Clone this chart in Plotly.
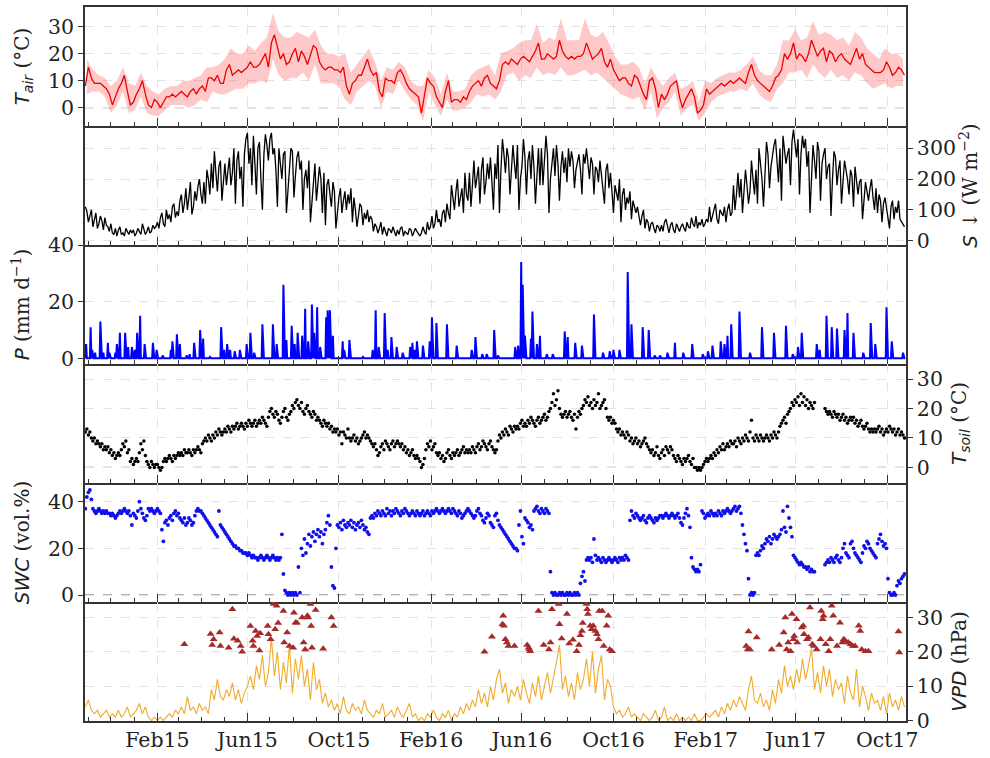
import pandas as pd
import plotly.graph_objects as go
from plotly.subplots import make_subplots

# ---------------- data ----------------
START = "2014-10-28"

# air temperature, 4-day steps (deg C)
tair = [8, 15, 11, 9, 9, 9, 8, 7,
        5, 1, 4, 7, 9, 12, 6, 1,
        2, 5, 7, 10, 5, 1, 0, 3,
        2, 0, 2, 4, 4, 5, 4, 5,
        6, 5, 4, 6, 7, 5, 7, 8,
        6, 11, 11, 10, 12, 9, 9, 14,
        16, 12, 13, 14, 13, 14, 15, 17,
        15, 15, 16, 18, 20, 15, 24, 27,
        22, 18, 20, 16, 17, 20, 22, 17,
        21, 19, 16, 20, 23, 22, 17, 15,
        14, 15, 15, 14, 14, 13, 15, 8,
        5, 9, 10, 12, 12, 15, 18, 14,
        12, 13, 6, 4, 11, 10, 10, 9,
        13, 14, 12, 9, 7, 6, 5, 4,
        -2, 5, 11, 9, 8, 4, 2, 0,
        6, 10, 2, 3, 3, 2, 4, 3,
        6, 8, 9, 10, 8, 11, 12, 9,
        8, 7, 10, 16, 17, 16, 18, 17,
        16, 18, 19, 18, 17, 19, 21, 24,
        18, 18, 20, 19, 18, 19, 25, 21,
        19, 18, 19, 18, 19, 19, 20, 24,
        21, 18, 19, 20, 22, 17, 15, 18,
        14, 12, 10, 11, 11, 9, 8, 12,
        11, 8, 5, 3, 10, 11, 7, 0,
        5, 3, 5, 8, 9, 10, 4, 0,
        3, 5, 7, 4, -2, -1, 1, 7,
        5, 6, 7, 8, 9, 8, 9, 10,
        9, 10, 11, 10, 9, 13, 16, 12,
        10, 9, 8, 7, 6, 8, 11, 12,
        14, 20, 18, 20, 24, 18, 20, 19,
        17, 20, 25, 22, 19, 21, 22, 17,
        21, 20, 17, 19, 20, 18, 17, 16,
        19, 22, 18, 20, 16, 15, 14, 13,
        13, 13, 14, 17, 15, 12, 13, 15,
        14, 12]

# daily min / max envelope of air temperature, 8-day steps
tair_max = [18, 14, 12, 11, 8, 10, 15, 9, 8, 13, 8, 6, 5, 7, 8, 8,
            10, 10, 11, 12, 15, 15, 16, 18, 22, 20, 20, 23, 21, 24, 26, 35,
            28, 26, 26, 28, 27, 26, 29, 23, 20, 20, 19, 20, 13, 16, 19, 22,
            17, 10, 15, 14, 17, 15, 10, 8, 8, 14, 11, 5, 13, 6, 6, 7,
            12, 14, 15, 16, 12, 20, 21, 22, 24, 25, 25, 31, 24, 26, 25, 33,
            25, 25, 25, 33, 27, 26, 28, 24, 19, 16, 16, 17, 15, 9, 15, 11,
            8, 11, 13, 7, 8, 10, 2, 10, 9, 11, 12, 13, 13, 14, 16, 19,
            14, 12, 12, 16, 25, 25, 29, 25, 26, 32, 27, 28, 27, 25, 26, 23,
            28, 26, 22, 20, 18, 22, 20, 20, 18]
tair_min = [5, 6, 6, 4, -2, 1, 6, -2, -1, 4, -2, -3, -3, -1, 1, 1,
            1, 0, 1, 3, 2, 6, 5, 5, 6, 7, 7, 9, 9, 10, 9, 18,
            12, 10, 11, 11, 13, 10, 16, 9, 9, 9, 8, 3, 1, 6, 8, 10,
            8, 0, 6, 5, 10, 6, 3, 1, -5, 6, 1, -3, 3, -1, -1, 0,
            2, 5, 4, 5, 3, 6, 12, 13, 10, 12, 11, 15, 12, 13, 12, 15,
            12, 12, 13, 14, 12, 13, 11, 9, 7, 5, 4, 3, 4, -1, 6, -4,
            0, 2, 6, -3, 0, 1, -5, -2, 2, 4, 5, 6, 6, 7, 6, 9,
            5, 3, 2, 7, 9, 13, 13, 14, 11, 16, 13, 11, 14, 11, 12, 10,
            13, 12, 9, 7, 8, 9, 7, 8, 8]

# incoming shortwave radiation, 2-day steps (W m-2)
sw_in = [110, 95, 60, 85, 100, 45, 70, 90, 40, 55, 80, 65, 35, 75, 50, 45,
         30, 55, 25, 20, 40, 15, 35, 45, 20, 25, 15, 40, 30, 20, 35, 25,
         35, 15, 25, 40, 30, 20, 55, 35, 20, 30, 45, 25, 30, 50, 40, 45,
         60, 40, 75, 90, 55, 45, 100, 70, 85, 60, 110, 120, 75, 95, 80, 130,
         150, 90, 120, 170, 100, 140, 190, 85, 110, 160, 130, 175, 200, 150, 120, 190,
         120, 230, 200, 150, 250, 170, 290, 220, 160, 240, 260, 130, 210, 250, 180, 240,
         270, 180, 220, 300, 120, 260, 290, 200, 240, 110, 280, 330, 350, 250, 300, 180,
         340, 250, 150, 300, 320, 200, 100, 280, 345, 310, 260, 330, 350, 280, 300, 230,
         110, 300, 250, 200, 280, 290, 90, 170, 250, 300, 290, 140, 210, 270, 290, 230,
         260, 100, 200, 230, 170, 260, 60, 130, 210, 250, 130, 180, 240, 200, 90, 220,
         50, 180, 200, 150, 110, 190, 160, 40, 100, 140, 170, 90, 130, 160, 100, 150,
         120, 170, 60, 140, 100, 45, 80, 120, 110, 50, 90, 70, 100, 60, 80, 70,
         30, 55, 45, 25, 40, 60, 20, 45, 30, 15, 40, 35, 25, 45, 30, 15,
         35, 20, 40, 45, 15, 30, 25, 20, 40, 35, 15, 25, 40, 30, 20, 15,
         25, 45, 30, 20, 60, 35, 45, 80, 40, 55, 100, 60, 70, 45, 90, 100,
         60, 120, 90, 70, 180, 130, 100, 160, 200, 110, 140, 170, 90, 220, 150, 130,
         220, 110, 180, 260, 170, 200, 240, 120, 230, 270, 150, 190, 250, 200, 270, 190,
         100, 250, 200, 310, 90, 230, 330, 280, 220, 300, 270, 150, 230, 310, 250, 200,
         310, 100, 200, 240, 330, 270, 150, 260, 290, 200, 310, 240, 120, 230, 300, 180,
         300, 180, 260, 340, 280, 90, 200, 260, 300, 210, 310, 250, 130, 240, 290, 220,
         270, 190, 300, 240, 290, 260, 170, 230, 260, 280, 230, 150, 280, 250, 300, 240,
         200, 270, 250, 150, 240, 230, 190, 260, 210, 170, 120, 230, 250, 170, 220, 160,
         90, 180, 160, 130, 200, 60, 150, 170, 100, 140, 120, 160, 70, 130, 110, 90,
         110, 70, 50, 80, 100, 40, 70, 60, 30, 55, 60, 40, 25, 50, 45, 30,
         50, 30, 60, 70, 40, 25, 50, 60, 35, 25, 55, 40, 30, 45, 55, 40,
         30, 60, 45, 40, 75, 55, 45, 80, 40, 60, 50, 70, 45, 55, 70, 60,
         110, 60, 80, 90, 120, 70, 55, 100, 90, 80, 110, 60, 100, 120, 80, 90,
         180, 100, 150, 220, 140, 200, 90, 160, 230, 180, 120, 160, 260, 200, 150, 230,
         120, 300, 250, 200, 110, 220, 320, 280, 170, 240, 280, 310, 330, 250, 190, 300,
         130, 340, 300, 250, 280, 300, 180, 320, 360, 300, 270, 330, 150, 280, 340, 300,
         330, 240, 290, 90, 200, 310, 260, 200, 320, 290, 130, 250, 280, 300, 200, 240,
         250, 80, 200, 290, 270, 180, 230, 260, 120, 200, 260, 230, 200, 150, 230, 210,
         110, 240, 200, 150, 190, 200, 70, 150, 190, 160, 130, 170, 200, 140, 100, 170,
         90, 150, 130, 60, 120, 140, 100, 80, 40, 110, 130, 70, 110, 90, 130, 70,
         60, 50, 45]

# precipitation events (mm d-1)
precip_dates = [
    "2014-10-29", "2014-11-04", "2014-11-06", "2014-11-10", "2014-11-17", "2014-11-21",
    "2014-11-27", "2014-11-29", "2014-12-07", "2014-12-09", "2014-12-13", "2014-12-20",
    "2014-12-24", "2014-12-29", "2015-01-02", "2015-01-05", "2015-01-09", "2015-01-15",
    "2015-01-26", "2015-01-31", "2015-02-08", "2015-02-19", "2015-02-21", "2015-02-27",
    "2015-03-03", "2015-03-12", "2015-03-16", "2015-03-22", "2015-03-30", "2015-04-03",
    "2015-04-12", "2015-04-27", "2015-05-01", "2015-05-05", "2015-05-09", "2015-05-15",
    "2015-05-22", "2015-05-31", "2015-06-05", "2015-06-10", "2015-06-21", "2015-07-05",
    "2015-07-10", "2015-07-19", "2015-07-23", "2015-07-30", "2015-08-03", "2015-08-07",
    "2015-08-13", "2015-08-17", "2015-08-21", "2015-08-26", "2015-08-29", "2015-09-02",
    "2015-09-06", "2015-09-14", "2015-09-16", "2015-09-19", "2015-09-23", "2015-10-06",
    "2015-10-08", "2015-10-15", "2015-11-02", "2015-11-15", "2015-11-19", "2015-11-23",
    "2015-12-01", "2015-12-05", "2015-12-10", "2015-12-17", "2015-12-25", "2016-01-04",
    "2016-01-07", "2016-01-10", "2016-01-13", "2016-01-21", "2016-01-30", "2016-02-02",
    "2016-02-08", "2016-02-22", "2016-03-06", "2016-03-26", "2016-03-31", "2016-04-09",
    "2016-04-15", "2016-04-25", "2016-04-30", "2016-05-23", "2016-05-27", "2016-05-31",
    "2016-06-02", "2016-06-05", "2016-06-13", "2016-06-15", "2016-06-21", "2016-06-25",
    "2016-07-04", "2016-07-12", "2016-07-28", "2016-08-01", "2016-08-11", "2016-08-20",
    "2016-09-05", "2016-09-17", "2016-09-26", "2016-10-01", "2016-10-09", "2016-10-20",
    "2016-10-25", "2016-11-09", "2016-11-17", "2016-11-25", "2016-12-02", "2016-12-12",
    "2016-12-22", "2017-01-02", "2017-01-14", "2017-01-28", "2017-02-04", "2017-02-10",
    "2017-02-21", "2017-02-26", "2017-03-02", "2017-03-07", "2017-03-18", "2017-04-01",
    "2017-04-17", "2017-05-03", "2017-05-19", "2017-05-28", "2017-06-04", "2017-06-09",
    "2017-06-29", "2017-07-03", "2017-07-12", "2017-07-19", "2017-07-26", "2017-08-05",
    "2017-08-09", "2017-08-17", "2017-08-30", "2017-09-09", "2017-09-15", "2017-09-30",
    "2017-10-07", "2017-10-22"]
precip_vals = [
    5, 11, 3, 2, 13, 2,
    5.5, 2, 2, 5, 9, 9,
    4, 4, 3, 9, 15, 5,
    5.5, 3, 1, 3, 6, 8.5,
    5, 1, 1.5, 5.5, 10, 7,
    0.5, 11, 3, 5, 3, 2.5,
    3, 5, 9, 2, 12, 12,
    5, 26, 6.5, 11.5, 5, 9,
    8, 17.5, 6, 19, 9, 18,
    4, 14.5, 17, 17, 8, 6,
    3, 6.5, 0.5, 3, 17, 4,
    16, 3, 7.5, 4, 2, 4,
    5.5, 3, 6, 4.5, 6, 14.5,
    12.5, 12, 4.5, 3, 7.5, 1.5,
    1.5, 10, 1, 4, 4.5, 34,
    26, 8, 7, 16.5, 5, 8,
    1.5, 1.5, 9.5, 7.5, 5.5, 4.5,
    15.5, 2, 2.5, 3, 3, 30.5,
    12, 11, 10, 1, 1, 2,
    5.5, 2, 5, 1.5, 2.5, 4.5,
    6, 5, 8, 12, 16.5, 2,
    11, 9, 11.5, 1.5, 4, 9,
    5, 3, 15, 11, 10.5, 10,
    16, 9, 2, 12.5, 5, 18,
    6, 2]

# soil temperature, 2-day steps (deg C); None = missing
tsoil = [12, 13, 11, 12, 10, 9, 10, 8, 9, 8, 7, 8, 6, 7, 6, 7,
         5, 6, 4, 5, 3, 4, 5, 4, 6, 8, 7, 9, 5, 6, 2, 3,
         1, 2, 3, 2, 5, 8, 6, 9, 4, 2, 1, 0, 2, 1, 0, 1,
         1, 0, -1, 0, 2, 3, 2, 3, 4, 3, 2, 4, 3, 4, 5, 4,
         5, 4, 6, 5, 5, 6, 5, 4, 6, 5, 6, 7, 6, 5, 8, 9,
         10, 9, 11, 10, 9, 11, 10, 12, 11, 13, 12, 11, 12, 13, 12, 14,
         13, 12, 14, 13, 14, 15, 13, 14, 15, 14, 13, 15, 14, 16, 15, 14,
         15, 16, 14, 15, 16, 15, 17, 16, 15, 14, 17, 19, 20, 18, 17, 19,
         18, 16, 15, 17, 19, 20, 17, 16, 18, 19, 21, 20, 22, 23, 21, 20,
         22, 19, 18, 20, 21, 19, 18, 17, 19, 18, 16, 17, 16, 15, 14, 16,
         15, 14, 15, 13, 14, 12, 13, 12, 13, 11, 12, 8, 12, 11, 10, 13,
         10, 9, 10, 11, 9, 10, 8, 9, 10, 11, 12, 10, 11, 10, 9, 8,
         7, 8, 6, 4, 5, 7, 8, 6, 9, 8, 7, 6, 8, 9, 7, 8,
         9, 8, 7, 8, 6, 7, 5, 6, 4, 5, 6, 4, 3, 4, 3, 2,
         0, 1, 3, 6, 8, 7, 9, 6, 7, 8, 5, 4, 5, 3, 4, 2,
         3, 5, 6, 4, 3, 5, 4, 5, 6, 4, 5, 6, 7, 5, 6, 5,
         6, 5, 7, 6, 5, 7, 8, 6, 7, 9, 8, 7, 6, 8, 9, 7,
         6, 5, 6, 9, 11, 10, 12, 11, 13, 12, 11, 14, 13, 12, 14, 13,
         14, 13, 15, 16, 14, 15, 14, 16, 15, 17, 16, 15, 14, 16, 17, 15,
         16, 17, 18, 16, 17, 19, 20, 22, 25, 21, 23, 26, 20, 18, 17, 18,
         19, 17, 18, 19, 17, 16, 18, 13, 17, 19, 18, 20, 21, 23, 22, 24,
         21, 22, 20, 23, 21, 22, 25, 20, 21, 22, 23, 20, 17, 16, 17, 15,
         16, 15, 13, 12, 13, 11, 12, 11, 10, 12, 11, 9, 10, 8, 9, 10,
         8, 9, 7, 8, 9, 10, 8, 7, 6, 5, 6, 4, 5, 7, 4, 3,
         5, 6, 4, 7, 6, 5, 7, 6, 4, 3, 2, 4, 3, 2, 1, 3,
         2, 3, 4, 2, 1, 3, 0, 0, -1, 0, -1, 0, 1, 2, 3, 2,
         3, 4, 3, 5, 4, 6, 5, 7, 6, 8, 6, 7, 8, 7, 9, 8,
         8, 9, 7, 10, 9, 8, 10, 9, 11, 10, 9, 12, 16, 10, 9, 11,
         10, 9, 11, 10, 9, 10, 11, 10, 9, 11, 10, 12, 11, 10, 12, 14,
         15, 16, 17, 15, 18, 19, 20, 22, 21, 23, 22, 24, 21, 25, 22, 24,
         21, 23, 20, 22, 21, 20, 22, None, None, None, None, None, None, 20, 19, 18,
         19, 18, 17, 19, 18, 17, 18, 16, 17, 18, 16, 17, 15, 16, 17, 16,
         17, 15, 16, 14, 15, 16, 14, 13, 14, 15, 13, 12, 13, 12, 13, 12,
         13, 14, 12, 13, 11, 12, 13, 12, 14, 13, 12, 13, 11, 12, 13, 11,
         12, 11, 10]

# soil water content, 2-day steps (vol.%); None = missing
swc = [37, 42, 44, 45, 41, 37, 36, 35, 36, 37, 36, 35, 36, 35, 36, 35,
       35, 34, 35, 34, 33, 34, 35, 36, 35, 36, 37, 36, 35, 36, 34, 30,
       35, 34, 33, 36, 40, 37, 35, 33, 32, 34, 37, 36, 37, 36, 35, 36,
       37, 36, 35, 28, 23, 31, 32, 30, 33, 34, 32, 35, 36, 34, 35, 33,
       32, 31, 33, 30, 31, 33, 32, 30, 31, 34, 36, 37, 36, 36, 35, 34,
       33, 32, 31, 30, 29, 28, 27, 26, 25, 36, 30, 29, 28, 27, 26, 25,
       24, 23, 22, 21, 21, 20, 20, 19, 19, 18, 18, 18, 17, 18, 17, 16,
       17, 16, 16, 15, 16, 17, 16, 15, 16, 17, 16, 15, 16, 17, 16, 15,
       16, 15, 16, 26, 9, 2, 1, 0, 1, 0, 1, 0, 1, 0, 12, 1,
       20, 17, 24, 18, 22, 26, 21, 25, 27, 23, 26, 28, 25, 27, 22, 26,
       28, 31, 34, 30, 12, 4, 3, 20, 30, 29, 31, 28, 32, 30, 29, 31,
       30, 32, 29, 31, 28, 30, 31, 29, 32, 30, 28, 29, 27, 26, 33, 34,
       33, 35, 34, 36, 35, 34, 36, 35, 34, 37, 35, 36, 34, 36, 35, 37,
       36, 35, 34, 36, 35, 37, 36, 35, 34, 35, 36, 35, 34, 36, 35, 34,
       35, 36, 34, 35, 36, 35, 34, 36, 35, 36, 37, 36, 35, 36, 37, 36,
       35, 36, 37, 36, 35, 37, 36, 35, 34, 36, 35, 33, 34, 35, 36, 37,
       36, 35, 34, 33, 34, 36, 37, 35, 34, 32, 31, 33, 35, 34, 31, 30,
       29, 34, 35, 32, 30, 29, 28, 27, 26, 25, 24, 23, 22, 21, 20, 20,
       19, 30, 36, 25, 22, 33, 32, 31, 29, 30, 28, 36, 37, 38, 36, 35,
       37, 36, 35, 37, 36, 35, 10, 1, 0, 1, 0, 0, 1, 0, 1, 0,
       0, 1, 0, 1, 0, 0, 1, 0, 1, 0, 5, 8, 10, 6, 15, 16,
       15, 16, 14, 24, 17, 15, 16, 15, 14, 16, 15, 14, 15, 16, 15, 14,
       15, 16, 15, 14, 16, 15, 16, 15, 17, 16, 15, 32, 36, 34, 33, 35,
       34, 33, 32, 33, 34, 32, 31, 33, 34, 33, 32, 31, 33, 32, 33, 34,
       34, 33, 34, 35, 34, 33, 34, 35, 34, 33, 34, 35, 33, 31, 30, 33,
       35, 37, 34, 29, 16, 12, 11, 10, 11, 10, 13, 36, 35, 33, 34, 35,
       34, 36, 35, 34, 35, 34, 36, 35, 34, 36, 35, 36, 37, 36, 35, 36,
       37, 38, 36, 37, 38, 35, 30, 26, 22, 19, 7, 0, 1, 0, 1, 17,
       18, 17, 19, 21, 20, 22, 24, 23, 25, 22, 24, 26, 25, 24, 25, 26,
       28, 36, 29, 27, 38, 33, 29, 25, 17, 16, 15, 14, 13, 14, 13, 12,
       12, 11, 12, 10, 11, 10, 10, None, None, None, None, None, None, 13, 14, 15,
       14, 16, 15, 14, 16, 17, 15, 14, 16, 20, 22, 18, 17, 16, 22, 23,
       20, 18, 17, 16, 15, 14, 18, 21, 20, 23, 22, 20, 19, 18, 17, 16,
       22, 24, 26, 23, 21, 22, 20, 7, 1, 0, 0, 1, 0, 4, 6, 5,
       7, 8, 9]

# vapour pressure deficit, 4-day steps (hPa)
vpd = [4, 6, 3, 2, 3, 1, 2, 3,
       1, 2, 1, 3, 1, 2, 4, 1,
       2, 3, 5, 2, 4, 1, 0, 1,
       0, 1, 0, 1, 2, 1, 3, 2,
       4, 2, 7, 3, 4, 2, 5, 3,
       4, 2, 9, 6, 12, 7, 6, 9,
       7, 11, 6, 9, 5, 8, 10, 13,
       9, 16, 12, 19, 10, 14, 24, 13,
       20, 9, 17, 11, 22, 8, 18, 12,
       19, 10, 15, 6, 17, 9, 12, 5,
       8, 4, 6, 3, 5, 2, 7, 3,
       2, 5, 3, 4, 2, 6, 3, 2,
       1, 3, 2, 5, 1, 2, 3, 1,
       4, 2, 1, 3, 5, 1, 2, 0,
       1, 0, 2, 1, 3, 1, 0, 2,
       1, 3, 0, 2, 1, 4, 2, 5,
       3, 6, 4, 9, 5, 8, 4, 10,
       6, 12, 15, 8, 11, 5, 9, 7,
       10, 6, 12, 8, 5, 11, 7, 13,
       6, 10, 14, 8, 12, 17, 22, 9,
       13, 7, 11, 6, 14, 9, 12, 18,
       10, 20, 8, 15, 19, 6, 12, 10,
       4, 2, 3, 1, 2, 4, 1, 2,
       1, 0, 2, 1, 0, 1, 3, 0,
       1, 4, 0, 1, 0, 2, 0, 1,
       0, 1, 0, 2, 0, 0, 1, 2,
       1, 2, 3, 1, 4, 2, 5, 3,
       6, 4, 7, 5, 3, 9, 13, 6,
       5, 8, 4, 6, 3, 9, 5, 12,
       8, 16, 10, 13, 9, 15, 11, 18,
       12, 16, 21, 9, 14, 8, 16, 10,
       15, 7, 12, 9, 11, 5, 13, 8,
       6, 15, 4, 10, 7, 3, 8, 5,
       6, 3, 7, 2, 8, 4, 6, 3,
       7, 4]

# high-VPD days (hPa)
vpd_hi_dates = [
    "2015-03-09", "2015-04-13", "2015-04-15", "2015-04-17", "2015-04-25", "2015-04-26",
    "2015-05-07", "2015-05-12", "2015-05-14", "2015-05-19", "2015-05-23", "2015-05-25",
    "2015-06-05", "2015-06-08", "2015-06-09", "2015-06-12", "2015-06-14", "2015-06-17",
    "2015-06-18", "2015-06-28", "2015-06-29", "2015-07-02", "2015-07-06", "2015-07-08",
    "2015-07-10", "2015-07-12", "2015-07-19", "2015-07-20", "2015-07-24", "2015-07-27",
    "2015-08-01", "2015-08-02", "2015-08-04", "2015-08-06", "2015-08-13", "2015-08-15",
    "2015-08-17", "2015-08-20", "2015-08-21", "2015-08-24", "2015-08-25", "2015-08-26",
    "2015-08-31", "2015-09-10", "2015-09-21", "2015-09-24",
    "2016-04-12", "2016-04-22", "2016-05-06", "2016-05-07", "2016-05-08", "2016-05-10",
    "2016-05-12", "2016-05-14", "2016-05-22", "2016-06-08", "2016-06-10", "2016-06-11",
    "2016-06-12", "2016-06-23", "2016-06-30", "2016-07-07", "2016-07-09", "2016-07-11",
    "2016-07-20", "2016-07-21", "2016-07-24", "2016-07-31", "2016-08-03", "2016-08-08",
    "2016-08-13", "2016-08-16", "2016-08-18", "2016-08-20", "2016-08-21", "2016-08-26",
    "2016-08-27", "2016-08-28", "2016-08-31", "2016-09-02", "2016-09-04", "2016-09-07",
    "2016-09-09", "2016-09-11", "2016-09-12", "2016-09-16", "2016-09-18", "2016-09-22",
    "2016-09-24", "2016-09-26", "2016-09-29",
    "2017-03-27", "2017-03-29", "2017-03-30", "2017-04-01", "2017-04-10", "2017-04-30",
    "2017-05-10", "2017-05-16", "2017-05-18", "2017-05-20", "2017-05-22", "2017-05-25",
    "2017-05-27", "2017-05-29", "2017-05-30", "2017-06-02", "2017-06-03", "2017-06-09",
    "2017-06-11", "2017-06-12", "2017-06-16", "2017-06-18", "2017-06-20", "2017-06-23",
    "2017-06-25", "2017-06-29", "2017-07-04", "2017-07-05", "2017-07-07", "2017-07-08",
    "2017-07-11", "2017-07-15", "2017-07-17", "2017-07-19", "2017-07-21", "2017-07-26",
    "2017-07-30", "2017-08-02", "2017-08-04", "2017-08-06", "2017-08-10", "2017-08-13",
    "2017-08-16", "2017-08-19", "2017-08-24", "2017-08-26", "2017-08-28", "2017-09-02",
    "2017-09-06", "2017-10-16", "2017-10-17"]
vpd_hi_vals = [
    22.2, 25.2, 22.0, 23.7, 25.6, 21.7,
    21.2, 32.4, 23.8, 23.2, 21.7, 20.0,
    27.5, 23.2, 21.7, 26.1, 24.6, 20.4,
    25.4, 27.5, 25.1, 23.7, 33.9, 26.6,
    33.4, 28.4, 31.9, 22.7, 25.6, 21.7,
    21.2, 31.4, 28.5, 28.5, 30.0, 22.7,
    20.7, 30.5, 30.0, 33.9, 27.5, 21.2,
    32.2, 20.9, 30.0, 27.5,
    20.0, 24.4, 28.0, 30.5, 27.6, 23.7,
    22.7, 21.7, 21.7, 22.0, 21.2, 20.7,
    20.2, 31.9, 22.0, 20.7, 22.7, 32.4,
    33.9, 28.0, 23.9, 31.0, 22.4, 23.5,
    20.2, 22.0, 24.8, 26.1, 28.4, 33.9,
    32.4, 31.0, 27.6, 26.6, 27.6, 26.1,
    25.1, 23.7, 31.9, 31.9, 21.7, 27.6,
    30.5, 20.7, 20.2,
    21.7, 20.7, 25.9, 20.7, 24.2, 20.7,
    22.0, 25.6, 30.0, 20.7, 22.7, 20.2,
    31.0, 23.7, 24.6, 29.5, 22.7, 27.1,
    27.6, 25.1, 23.7, 24.2, 32.9, 22.2,
    21.7, 20.7, 23.7, 31.9, 29.5, 30.5,
    22.2, 20.2, 23.7, 33.4, 30.5, 21.7,
    28.5, 22.7, 23.7, 23.2, 22.7, 22.2,
    21.7, 21.7, 27.6, 26.1, 20.7, 20.2,
    20.2, 25.9, 19.8]

# ---------------- build series ----------------
d4 = pd.date_range(START, periods=len(tair), freq="4D")
d_band = pd.date_range("2014-10-30", periods=len(tair_max), freq="8D")
d_sw = pd.date_range(START, periods=len(sw_in), freq="2D")
d_ts = pd.date_range(START, periods=len(tsoil), freq="2D")
d_swc = pd.date_range(START, periods=len(swc), freq="2D")
d_vpd = pd.date_range(START, periods=len(vpd), freq="4D")
daily = pd.date_range(START, "2017-10-25", freq="D")
p_daily = pd.Series(0.0, index=daily)
p_daily.loc[pd.to_datetime(precip_dates)] = precip_vals

SERIF = "DejaVu Serif"
SANS = "DejaVu Sans"
TXT = "#222222"
FRAME = "#333333"


def it(s):
    return f"<span style=\"font-family:'{SANS}'\"><i>{s}</i></span>"


fig = make_subplots(rows=6, cols=1, shared_xaxes=True, vertical_spacing=0)

# panel 1: air temperature
fig.add_trace(go.Scatter(x=d_band, y=tair_min, mode="lines", line=dict(width=0),
                         showlegend=False, hoverinfo="skip"), row=1, col=1)
fig.add_trace(go.Scatter(x=d_band, y=tair_max, mode="lines", line=dict(width=0),
                         fill="tonexty", fillcolor="rgba(255,60,60,0.28)",
                         showlegend=False, hoverinfo="skip"), row=1, col=1)
fig.add_trace(go.Scatter(x=d4, y=tair, mode="lines", line=dict(color="#ee0000", width=1.3),
                         showlegend=False), row=1, col=1)
# panel 2: shortwave
fig.add_trace(go.Scatter(x=d_sw, y=sw_in, mode="lines", line=dict(color="black", width=1.3),
                         showlegend=False), row=2, col=1)
# panel 3: precipitation
fig.add_trace(go.Scatter(x=p_daily.index, y=p_daily.values, mode="lines",
                         line=dict(color="#0000ff", width=2), fill="tozeroy",
                         fillcolor="#0000ff", showlegend=False), row=3, col=1)
# panel 4: soil temperature
fig.add_trace(go.Scatter(x=d_ts, y=tsoil, mode="markers",
                         marker=dict(color="black", size=3.5), showlegend=False), row=4, col=1)
# panel 5: soil water content
fig.add_trace(go.Scatter(x=d_swc, y=swc, mode="markers",
                         marker=dict(color="#1010ee", size=3.8), showlegend=False), row=5, col=1)
# panel 6: VPD
fig.add_trace(go.Scatter(x=d_vpd, y=vpd, mode="lines", line=dict(color="#f2aa2a", width=1.1),
                         showlegend=False), row=6, col=1)
fig.add_trace(go.Scatter(x=pd.to_datetime(vpd_hi_dates), y=vpd_hi_vals, mode="markers",
                         marker=dict(symbol="triangle-up", color="#a52a2a", size=7),
                         showlegend=False), row=6, col=1)

tickfont = dict(family=SERIF, size=20.5, color=TXT)

for r in range(1, 7):
    fig.update_xaxes(row=r, col=1, type="date", automargin=False,
                     range=["2014-10-27 12:00", "2017-10-26"],
                     tick0="2015-02-01", dtick="M4", tickformat="%b%y",
                     ticks="inside", ticklen=8, tickwidth=1.3, tickcolor=FRAME,
                     minor=dict(ticks="inside", ticklen=4, dtick="M1", tick0="2014-11-01",
                                tickcolor=FRAME, showgrid=False),
                     showgrid=True, gridcolor="#e3e3e3", griddash="dash", gridwidth=1,
                     showticklabels=(r == 6), tickfont=tickfont,
                     showline=True, linecolor=FRAME, linewidth=1.5, mirror=(r == 1))

ycfg = {
    1: dict(range=[-6.8, 37.3], tickvals=[0, 10, 20, 30], side="left",
            title=it("T") + "<sub>" + it("air") + "</sub> (°C)", standoff=13),
    2: dict(range=[-14, 372], tickvals=[0, 100, 200, 300], side="right",
            title=it("S") + " ↓ (W m<sup>−2</sup>)", standoff=6),
    3: dict(range=[-2, 40], tickvals=[0, 20, 40], side="left",
            title=it("P") + " (mm d<sup>−1</sup>)", standoff=13),
    4: dict(range=[-5.3, 35.1], tickvals=[0, 10, 20, 30], side="right",
            title=it("T") + "<sub>" + it("soil") + "</sub> (°C)", standoff=10),
    5: dict(range=[-3, 48], tickvals=[0, 20, 40], side="left",
            title=it("SWC") + " (vol.%)", standoff=13),
    6: dict(range=[-0.1, 34.5], tickvals=[0, 10, 20, 30], side="right",
            title=it("VPD") + " (hPa)", standoff=10),
}
for r, c in ycfg.items():
    fig.update_yaxes(row=r, col=1, range=c["range"], tickvals=c["tickvals"], side=c["side"],
                     automargin=False,
                     title=dict(text=c["title"], font=dict(family=SERIF, size=20, color=TXT),
                                standoff=c["standoff"]),
                     ticks="outside", ticklen=5, tickwidth=1.3, tickcolor=FRAME,
                     tickfont=tickfont, showgrid=True, gridcolor="#e3e3e3", griddash="dash",
                     zeroline=False, showline=True, linecolor=FRAME, linewidth=1.5, mirror=True)

# dashed zero reference lines
for r, yref in [(1, "y"), (4, "y4"), (5, "y5")]:
    fig.add_shape(type="line", xref="x domain" if r == 1 else f"x{r} domain",
                  x0=0, x1=1, yref=yref, y0=0, y1=0, layer="below",
                  line=dict(color="#9a9a9a", width=1.3, dash="dash"))

fig.update_layout(width=990, height=758, margin=dict(l=85, r=84, t=7, b=37),
                  plot_bgcolor="white", paper_bgcolor="white", showlegend=False,
                  font=dict(family=SERIF, size=20, color=TXT))

fig.write_html("out.html")
